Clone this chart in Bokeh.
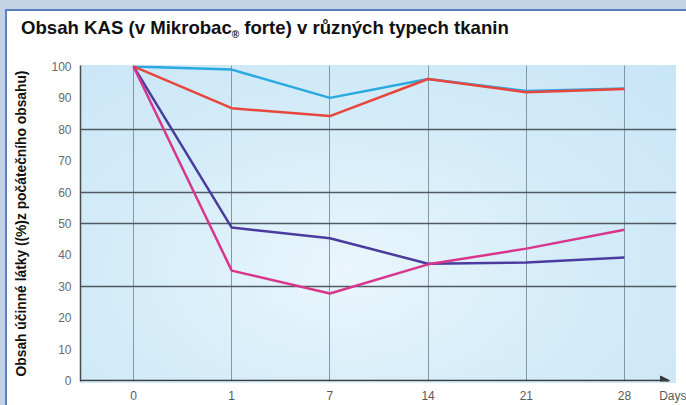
from bokeh.plotting import figure
from bokeh.models import Range1d, FixedTicker, Arrow, NormalHead, Div
from bokeh.layouts import column
from bokeh.embed import file_html
from bokeh.resources import INLINE

# ---- data ----
days = ["0", "1", "7", "14", "21", "28"]
axis_unit_label = "Days"
series_cyan = [100, 99, 90, 96, 92.2, 93]
series_red = [100, 86.7, 84.2, 96, 91.8, 92.8]
series_purple = [100, 48.7, 45.3, 37.2, 37.6, 39.2]
series_magenta = [100, 35, 27.7, 37, 42, 48]
y_ticks = [0, 10, 20, 30, 40, 50, 60, 70, 80, 90, 100]
y_grid_lines = [30, 50, 60, 80]
title_main = "Obsah KAS (v Mikrobac"
title_sub = "®"
title_rest = " forte) v různých typech tkanin"
y_label = "Obsah účinné látky ((%)z počátečního obsahu)"

# ---- geometry ----
W, H = 686, 405
HD = 40                      # title strip height
FL, FR, FT, FB = 80, 676, 65, 383
STEP = 98.2
X0 = -(133 - FL) / STEP
X1 = (FR - 133) / STEP
Y0, Y1 = -0.3, 100.3
DAYS_POS = (674 - 133) / STEP

band = "#c4d2e5"
edge = "#5b7fc2"

title_html = (
    f'<div style="margin-left:21px;margin-top:18px;font-family:\'Liberation Sans\';'
    f'font-weight:bold;font-size:18.6px;line-height:20px;color:#111;white-space:nowrap">'
    f'{title_main}<span style="font-size:10px;position:relative;top:4px">{title_sub}</span>'
    f'{title_rest}</div>'
)
div = Div(text=title_html, width=W, height=HD, margin=(0, 0, 0, 0),
          styles={"background": (f"linear-gradient({band},{band}) 0 0 / 100% 9px no-repeat, "
                                 f"linear-gradient({edge},{edge}) 5px 9px / 100% 2px no-repeat, "
                                 f"linear-gradient({band},{band}) 0 0 / 5px 100% no-repeat, "
                                 f"linear-gradient({edge},{edge}) 5px 9px / 2px 100% no-repeat, "
                                 "white"),
                  "overflow": "hidden"})

p = figure(width=W, height=H - HD, output_backend="svg", toolbar_location=None,
           x_range=Range1d(X0, X1), y_range=Range1d(Y0, Y1),
           min_border_left=FL, min_border_right=W - FR,
           min_border_top=FT - HD, min_border_bottom=H - FB, margin=(0, 0, 0, 0))

p.background_fill_color = None
p.border_fill_color = None
p.outline_line_color = None
p.styles = {
    "background": (f"linear-gradient({band},{band}) 0 0 / 5px 100% no-repeat, "
                   f"linear-gradient({edge},{edge}) 5px 0 / 2px 100% no-repeat, "
                   "radial-gradient(ellipse at 45% 65%, #eaf6fc 0%, #d6edf9 45%, #c8e5f6 100%) "
                   f"{FL}px {FT - HD}px / {FR - FL}px {FB - FT}px no-repeat, "
                   "white")
}

xs = list(range(len(days)))

# axes
p.xaxis.ticker = FixedTicker(ticks=xs + [DAYS_POS])
overrides = {i: d for i, d in enumerate(days)}
overrides[DAYS_POS] = axis_unit_label
p.xaxis.major_label_overrides = overrides
p.xaxis.axis_line_color = None
p.xaxis.major_tick_line_color = None
p.xaxis.minor_tick_line_color = None
p.xaxis.major_tick_out = 0
p.xaxis.major_tick_in = 0
p.xaxis.minor_tick_out = 0
p.xaxis.major_label_standoff = 7
p.xaxis.major_label_text_font = "Liberation Sans"
p.xaxis.major_label_text_font_size = "12px"
p.xaxis.major_label_text_color = "#5a5a5a"

p.yaxis.ticker = FixedTicker(ticks=y_ticks)
p.yaxis.axis_line_color = "#4a4a4a"
p.yaxis.axis_line_width = 1.5
p.yaxis.major_tick_line_color = None
p.yaxis.minor_tick_line_color = None
p.yaxis.major_tick_out = 0
p.yaxis.major_tick_in = 0
p.yaxis.minor_tick_out = 0
p.yaxis.major_label_standoff = 9
p.yaxis.major_label_text_font = "Liberation Sans"
p.yaxis.major_label_text_font_size = "12px"
p.yaxis.major_label_text_color = "#6a6a6a"
p.yaxis.axis_label = y_label
p.yaxis.axis_label_text_font = "Liberation Sans"
p.yaxis.axis_label_text_font_size = "13.8px"
p.yaxis.axis_label_text_font_style = "bold"
p.yaxis.axis_label_text_color = "#111111"
p.yaxis.axis_label_standoff = 19

# grids
p.xgrid.ticker = FixedTicker(ticks=xs)
p.xgrid.grid_line_color = "#8298a8"
p.xgrid.grid_line_width = 1
p.ygrid.ticker = FixedTicker(ticks=y_grid_lines)
p.ygrid.grid_line_color = "#4f5a62"
p.ygrid.grid_line_width = 1.5

# lines
p.line(xs, series_cyan, line_color="#2aa9e1", line_width=2.5)
p.line(xs, series_red, line_color="#e8453d", line_width=2.5)
p.line(xs, series_purple, line_color="#4a3c9e", line_width=2.5)
p.line(xs, series_magenta, line_color="#d8368c", line_width=2.5)

# x axis arrow
p.add_layout(Arrow(end=NormalHead(size=9, fill_color="#3a3a3a", line_color="#3a3a3a"),
                   x_start=X0, y_start=0, x_end=(669 - 133) / STEP, y_end=0,
                   line_color="#3a3a3a", line_width=1.5))

layout = column(div, p, spacing=0, margin=(0, 0, 0, 0))
open("out.html", "w").write(file_html(layout, INLINE))
